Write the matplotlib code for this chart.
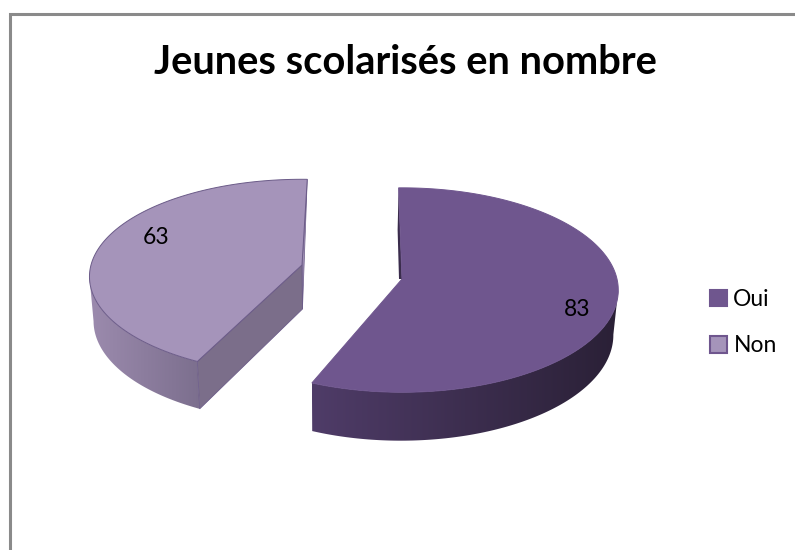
import matplotlib
matplotlib.use("Agg")
import matplotlib.pyplot as plt
import numpy as np
from matplotlib.colors import LinearSegmentedColormap
from matplotlib.patches import Patch, Polygon

categories = ["Oui", "Non"]
values = [83, 63]
title = "Jeunes scolarisés en nombre"

top_colors = {"Oui": "#6f568e", "Non": "#a594ba"}
edge_colors = {"Oui": "#6f568e", "Non": "#6b5b88"}
# horizontal shading of the curved wall, left colour then right colour
wall_colors = {"Oui": ("#4f3c68", "#2a2036"), "Non": ("#9c8bae", "#7c6f8e")}
radial_colors = {"Oui": "#3a2c4c", "Non": "#7b6e8a"}

# pixel layout of the exploded slices
apex = {"Oui": (402, 279), "Non": (302, 265)}
radius = {"Oui": (215, 101), "Non": (211, 96)}
tilt = {"Oui": 0.108, "Non": 0.12}
rotation = {"Oui": -1.0, "Non": 1.6}
end_trim = {"Oui": -1.5, "Non": 0.0}
label_pos = {"Oui": (577, 310), "Non": (156, 238)}


def project(name, theta):
    """Angle clockwise from the back of the pie -> pixel on the top face"""
    t = np.radians(theta)
    u, v = np.sin(t), np.cos(t)
    d = 1 + tilt[name] * v
    return apex[name][0] + radius[name][0] * u / d, apex[name][1] - radius[name][1] * v / d


def lower(x, y):
    """Top face pixel -> same point on the bottom face"""
    return 330 + (x - 330) * 0.983, y + 44 + (y - 265) * 0.035


spans = np.array(values) / sum(values) * 360
stops = np.concatenate([[0], np.cumsum(spans)])

fig = plt.figure(figsize=(7.95, 5.5), dpi=100)
ax = fig.add_axes([0, 0, 1, 1])
ax.axis("off")

ax.plot([9.5, 9.5, 795], [550, 13.5, 13.5], color="#8a8a8a", lw=2.2, solid_joinstyle="miter")

for i, name in enumerate(categories):
    th0 = stops[i] + rotation[name]
    th1 = stops[i + 1] + rotation[name] + end_trim[name]
    top_apex = apex[name]

    # curved outer wall, from the slice corner to where the rim turns back
    if name == "Oui":
        wall = np.linspace(96, th1, 120)
    else:
        wall = np.linspace(th0, 263, 80)
    xt, yt = project(name, wall)
    xb, yb = lower(xt, yt)
    outline = np.vstack([np.column_stack([xt, yt]), np.column_stack([xb, yb])[::-1]])
    cmap = LinearSegmentedColormap.from_list(name, wall_colors[name])
    grad = np.linspace(0, 1, 256).reshape(1, -1)
    im = ax.imshow(grad, cmap=cmap, aspect="auto", zorder=2, interpolation="bilinear",
                   extent=[outline[:, 0].min(), outline[:, 0].max(), outline[:, 1].max(), outline[:, 1].min()])
    clip = Polygon(outline, closed=True, fc="none", ec="none", transform=ax.transData)
    ax.add_patch(clip)
    im.set_clip_path(clip)

    # flat radial walls
    sx, sy = project(name, th0)
    ex, ey = project(name, th1)
    if name == "Non":
        ax.add_patch(Polygon([top_apex, (sx, sy), lower(sx, sy), lower(*top_apex)], closed=True,
                             fc=radial_colors[name], ec=edge_colors[name], lw=0.6, zorder=3))
        ax.add_patch(Polygon([(ex, ey), top_apex, lower(*top_apex)], closed=True,
                             fc="#a090b4", ec=edge_colors[name], lw=0.5, zorder=1))
    else:
        ax.add_patch(Polygon([(sx, sy), top_apex, (top_apex[0] - 3, top_apex[1]), (sx - 1, sy + 42)], closed=True,
                             fc=radial_colors[name], ec="none", zorder=1))

    # top face
    arc_x, arc_y = project(name, np.linspace(th0, th1, 240))
    pts = [top_apex] + list(zip(arc_x, arc_y))
    ax.add_patch(Polygon(pts, closed=True, fc=top_colors[name], ec=edge_colors[name], lw=0.7, zorder=4))

    ax.text(label_pos[name][0], label_pos[name][1], str(values[i]), ha="center", va="center",
            fontsize=16.5, family="Lato", color="black", zorder=5)

ax.set_xlim(0, 795)
ax.set_ylim(550, 0)

ax.text(405, 63, title, ha="center", va="center", fontsize=28.7, family="Lato", fontweight="bold", color="black")

handles = [Patch(fc=top_colors[n], ec="#6f568e", lw=1.5, label=n) for n in categories]
ax.legend(handles=handles, loc="upper left", bbox_to_anchor=(710, 289), bbox_transform=ax.transData,
          frameon=False, handlelength=0.75, handleheight=0.75, handletextpad=0.27, labelspacing=1.1,
          borderpad=0, borderaxespad=0, prop={"family": "Lato", "size": 16.5})

fig.savefig("out.png", dpi=100)
